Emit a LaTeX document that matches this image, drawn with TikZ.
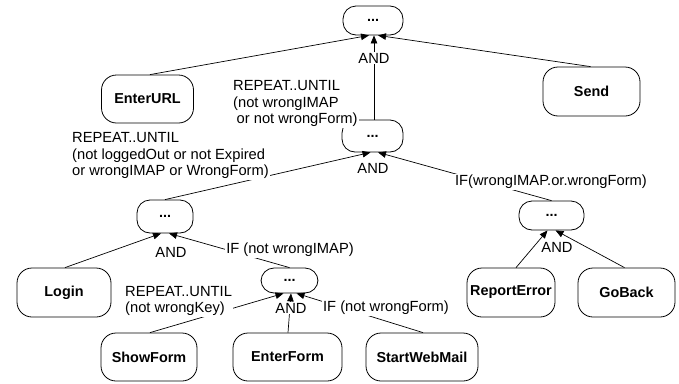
\documentclass[tikz,border=0pt]{standalone}
\usepackage{fontspec}
\setmainfont{Liberation Sans}
\usetikzlibrary{arrows.meta}
\begin{document}
\begin{tikzpicture}[x=1pt,y=-1pt,
  txt/.style={font=\fontsize{14.7}{16.5}\selectfont},
  task/.style={draw, line width=0.8pt, rounded corners=15pt, inner sep=0pt,
    minimum height=49pt, font=\fontsize{14.4}{16.5}\selectfont\bfseries},
  seq/.style={draw, line width=0.8pt, rounded corners=13pt, inner sep=0pt,
    font=\fontsize{14.4}{16.5}\selectfont\bfseries},
  lbl/.style={txt, fill=white, inner sep=1pt, align=left},
  link/.style={line width=0.7pt, -{Triangle[length=8pt,width=6.5pt]}}]
\useasboundingbox (0,0) rectangle (679,383);

% sequence (composite) nodes
\node[seq, minimum width=60pt, minimum height=29pt] (root) at (373,20.5) {...};
\node[seq, minimum width=61pt, minimum height=32pt] (main) at (372.5,136) {...};
\node[seq, minimum width=56pt, minimum height=33pt] (loop) at (165,216.5) {...};
\node[seq, minimum width=65pt, minimum height=29pt] (err) at (551.5,215.5) {...};
\node[seq, minimum width=57pt, minimum height=25pt] (form) at (289.5,280.5) {...};

% leaf tasks
\node[task, minimum width=92pt, minimum height=48pt] (url) at (147.5,99) {EnterURL};
\node[task, minimum width=97pt] (send) at (591.5,91.5) {Send};
\node[task, minimum width=94pt] (login) at (64,292.5) {Login};
\node[task, minimum width=88pt] (report) at (511,292.5) {ReportError};
\node[task, minimum width=97pt] (back) at (626.5,292.5) {GoBack};
\node[task, minimum width=96pt, minimum height=48pt] (show) at (149,357) {ShowForm};
\node[task, minimum width=109pt, minimum height=48pt] (enter) at (287.5,357) {EnterForm};
\node[task, minimum width=112pt, minimum height=48pt] (start) at (422,357) {StartWebMail};

% connectors, child to parent
\draw[link] ([xshift=2.5pt]url.north) -- ([xshift=-4pt]root.south);
\draw[link] ([xshift=1.5pt]main.north) -- ([xshift=1pt]root.south);
\draw[link] ([xshift=-1pt]send.north) -- ([xshift=5pt]root.south);
\draw[link] (loop.north) -- ([xshift=-2pt]main.south);
\draw[link] (err.north) -- ([xshift=5.5pt]main.south);
\draw[link] ([xshift=1pt]login.north) -- ([xshift=-4pt]loop.south);
\draw[link] (form.north) -- ([xshift=4pt]loop.south);
\draw[link] ([xshift=1pt]show.north) -- ([xshift=-6pt]form.south);
\draw[link] ([xshift=0.5pt]enter.north) -- ([xshift=1.5pt]form.south);
\draw[link] ([xshift=1pt]start.north) -- ([xshift=7pt]form.south);
\draw[link] ([xshift=5pt]report.north) -- ([xshift=-4pt]err.south);
\draw[link] ([xshift=-2pt]back.north) -- ([xshift=4pt]err.south);

% conditions and operators
\node[lbl, anchor=west] (c1) at (232,103.5)
  {REPEAT..UNTIL\\(not wrongIMAP\\\hspace*{3.5pt}or not wrongForm)};
\node[lbl, anchor=west] (c2) at (71,155.5)
  {REPEAT..UNTIL\\(not loggedOut or not Expired\\or wrongIMAP or WrongForm)};
\node[lbl] (c3) at (551,182) {IF(wrongIMAP.or.wrongForm)};
\node[lbl] (c4) at (290,250) {IF (not wrongIMAP)};
\node[lbl, anchor=west] (c5) at (124,301) {REPEAT..UNTIL\\(not wrongKey)};
\node[lbl] (c6) at (386,308) {IF (not wrongForm)};

\node[lbl] (and1) at (374,58) {AND};
\node[lbl] (and2) at (373,168) {AND};
\node[lbl] (and3) at (171,252) {AND};
\node[lbl] (and4) at (291,308) {AND};
\node[lbl] (and5) at (557,247) {AND};
\end{tikzpicture}
\end{document}
